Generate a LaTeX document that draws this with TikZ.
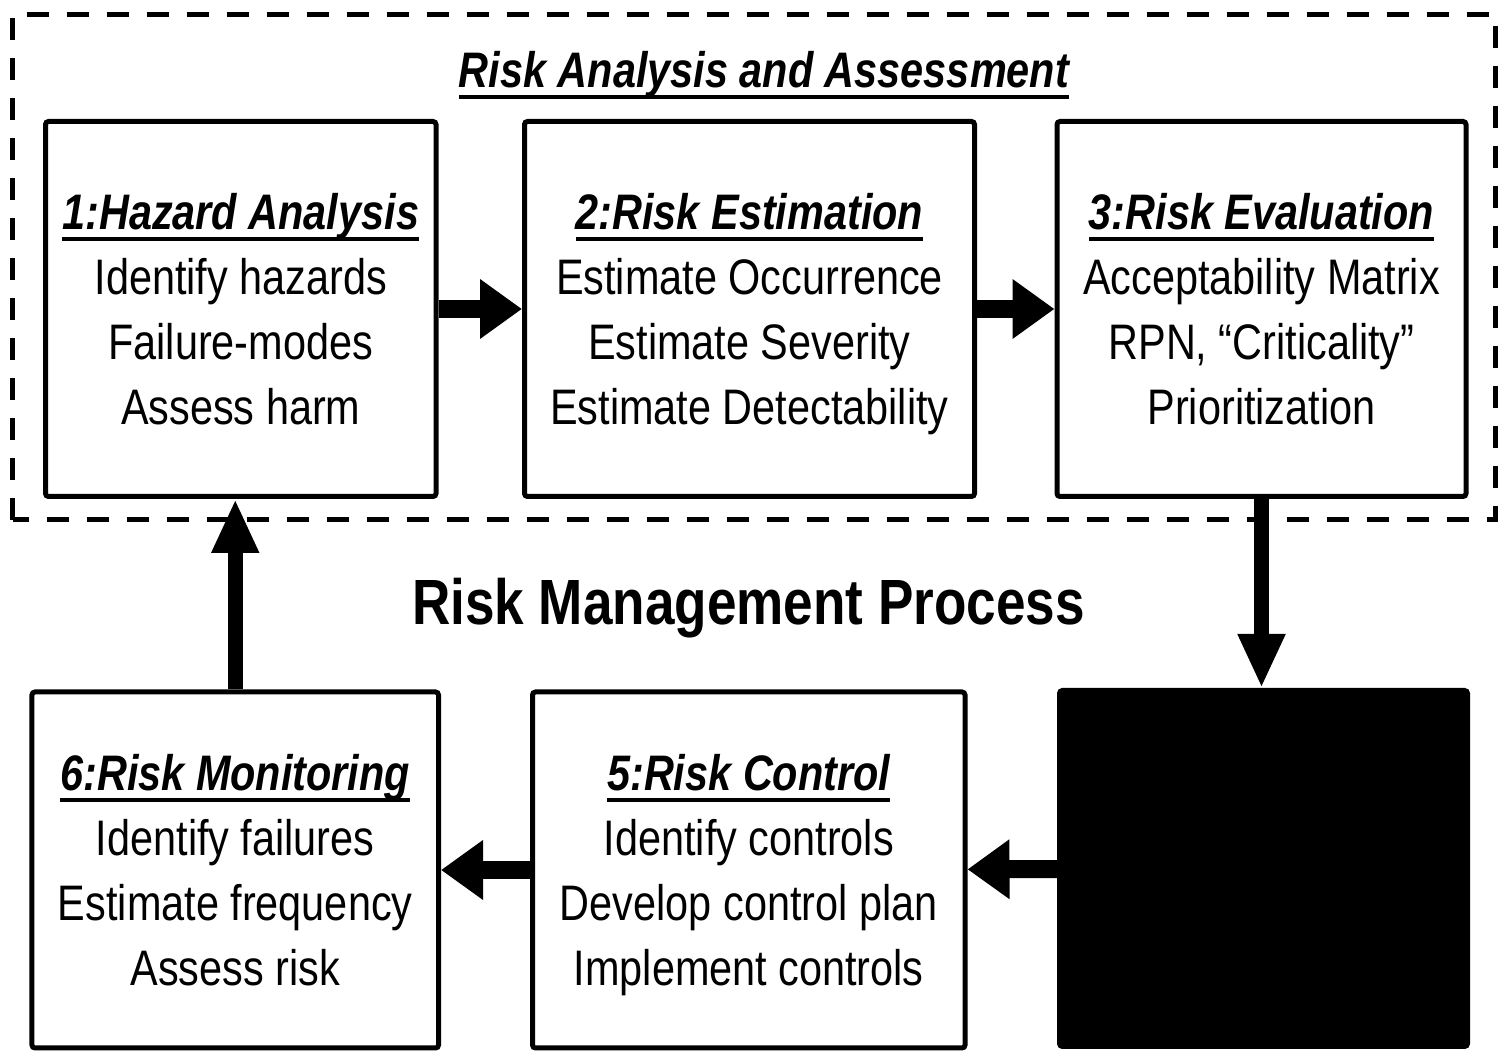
\documentclass[tikz,border=0pt]{standalone}
\usepackage{fontspec}
\setmainfont[FakeStretch=0.83]{Liberation Sans}
\usetikzlibrary{arrows.meta}
% underlined bold italic heading
\newcommand{\ulhead}[1]{\setbox0=\hbox{\bfseries\itshape #1}\rlap{\rule[-0.11cm]{\wd0}{0.04cm}}\box0}

\begin{document}
\begin{tikzpicture}[
    box/.style={draw, line width=0.05cm, rounded corners=0.03cm, inner sep=0pt, align=center,
                text depth=0pt, font=\fontsize{14.2}{18.5}\selectfont},
    harrow/.style={line width=0.18cm, -{Triangle[width=0.57cm,length=0.42cm]}},
    varrow/.style={line width=0.145cm, -{Triangle[width=0.44cm,length=0.54cm]}}]
    \useasboundingbox (0,0) rectangle (15.04,10.51);

    % Dashed frame round the analysis steps
    \draw[line width=0.05cm, dash pattern=on 0.22cm off 0.18cm] (0.125,5.31) rectangle (14.95,10.365);
    \node[anchor=base, font=\fontsize{14.2}{18.5}\selectfont] (title) at (7.64,9.63) {\ulhead{Risk Analysis and Assessment}};

    % Upper row (analysis and assessment)
    \node[box, minimum width=3.905cm, minimum height=3.75cm] (haz) at (2.4075,7.42)
        {\ulhead{1:Hazard Analysis}\\ Identify hazards\\ Failure-modes\\ Assess harm};
    \node[box, minimum width=4.5cm, minimum height=3.75cm] (est) at (7.495,7.42)
        {\ulhead{2:Risk Estimation}\\ Estimate Occurrence\\ Estimate Severity\\ Estimate Detectability};
    \node[box, minimum width=4.09cm, minimum height=3.75cm] (eval) at (12.615,7.42)
        {\ulhead{3:Risk Evaluation}\\ Acceptability Matrix\\ RPN, “Criticality”\\ Prioritization};

    % Lower row
    \node[box, fill=black, minimum width=4.08cm, minimum height=3.56cm] (blk) at (12.635,1.825) {};
    \node[box, minimum width=4.325cm, minimum height=3.56cm] (ctrl) at (7.4875,1.81)
        {\ulhead{5:Risk Control}\\ Identify controls\\ Develop control plan\\ Implement controls};
    \node[box, minimum width=4.065cm, minimum height=3.56cm] (mon) at (2.3525,1.81)
        {\ulhead{6:Risk Monitoring}\\ Identify failures\\ Estimate frequency\\ Assess risk};

    % Centre label
    \node[anchor=base, font=\fontsize{18.2}{22}\selectfont\bfseries] (proc) at (7.485,4.26) {Risk Management Process};

    % Connectors
    \draw[harrow] (haz) -- (est);
    \draw[harrow] (est) -- (eval);
    \draw[varrow] (eval.south) -- (eval.south |- blk.north);
    \draw[harrow] (blk) -- (ctrl);
    \draw[harrow] (ctrl) -- (mon);
    \draw[varrow] (mon.north) -- (mon.north |- haz.south);
\end{tikzpicture}
\end{document}
